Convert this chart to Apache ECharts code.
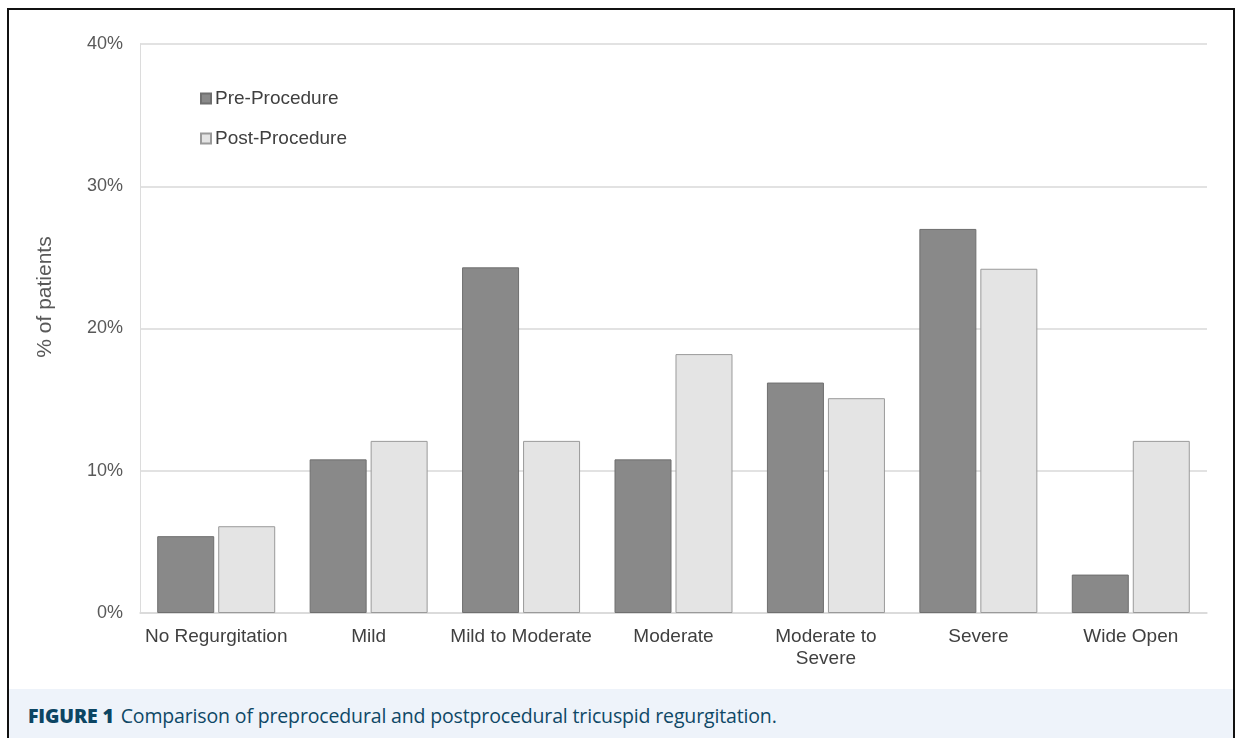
<!DOCTYPE html>
<html>
<head>
<meta charset="utf-8">
<script src="https://cdn.jsdelivr.net/npm/echarts@6/dist/echarts.min.js"></script>
<style>
  html, body { margin: 0; padding: 0; background: #fff; }
  #frame {
    position: absolute; left: 7px; top: 8px; width: 1224px; height: 730px;
    border-left: 2px solid #111; border-top: 2px solid #111; border-right: 2px solid #111;
    box-sizing: content-box;
  }
  #chart { position: absolute; left: 0; top: 0; width: 1241px; height: 688px; }
  #caption {
    position: absolute; left: 9px; top: 689px; width: 1224px; height: 49px;
    background: #eef3fa;
    font-family: "Open Sans", "Noto Sans", sans-serif; font-size: 19.5px;
    color: #0f4866; line-height: 54px; padding-left: 19px; box-sizing: border-box;
    letter-spacing: -0.15px;
  }
  #caption b { font-weight: 800; margin-right: 7px; color: #0c4563; }
</style>
</head>
<body>
<div id="chart"></div>
<div id="frame"></div>
<div id="caption"><b>FIGURE 1</b>Comparison of preprocedural and postprocedural tricuspid regurgitation.</div>
<script>
// Tricuspid regurgitation grade distribution before and after the procedure
const categories = ['No Regurgitation', 'Mild', 'Mild to Moderate', 'Moderate', 'Moderate to\nSevere', 'Severe', 'Wide Open'];
const preProcedure = [5.4, 10.8, 24.3, 10.8, 16.2, 27.0, 2.7];
const postProcedure = [6.1, 12.1, 12.1, 18.2, 15.1, 24.2, 12.1];
const yTicks = [0, 10, 20, 30, 40];

const chart = echarts.init(document.getElementById('chart'), null, { renderer: 'canvas' });
const font = '"Liberation Sans", Arial, sans-serif';

chart.setOption({
  animation: false,
  textStyle: { fontFamily: font },
  grid: { left: 140, right: 34, top: 44, bottom: 75, containLabel: false },
  legend: {
    orient: 'vertical', left: 195, top: 84, itemGap: 21,
    itemWidth: 10, itemHeight: 10, icon: 'rect',
    textStyle: { fontFamily: font, fontSize: 19, color: '#404040', padding: [0, 0, 0, -1] },
    data: ['Pre-Procedure', 'Post-Procedure']
  },
  xAxis: {
    type: 'category', data: categories,
    axisLine: { lineStyle: { color: '#d9d9d9', width: 1.5 } },
    axisTick: { show: false },
    axisLabel: { fontFamily: font, fontSize: 19, color: '#404040', margin: 13, lineHeight: 22, interval: 0 }
  },
  yAxis: {
    type: 'value', min: yTicks[0], max: yTicks[yTicks.length - 1], interval: 10,
    axisLine: { show: true, lineStyle: { color: '#dcdcdc', width: 1 } },
    axisTick: { show: false },
    splitLine: { lineStyle: { color: '#d9d9d9', width: 1.5 } },
    axisLabel: { fontFamily: font, fontSize: 18, color: '#595959', margin: 17, formatter: v => v + '%' }
  },
  graphic: [{
    type: 'text', x: 35, y: 297, rotation: Math.PI / 2, originX: 0, originY: 0,
    style: { text: '% of patients', font: '21px ' + font, fill: '#595959', align: 'center', verticalAlign: 'top' },
    silent: true
  }],
  series: [
    {
      name: 'Pre-Procedure', type: 'bar', data: preProcedure,
      barWidth: 57, barGap: '7%',
      itemStyle: { color: '#898989', borderColor: '#6f6f6f', borderWidth: 1 }
    },
    {
      name: 'Post-Procedure', type: 'bar', data: postProcedure,
      barWidth: 57,
      itemStyle: { color: '#e4e4e4', borderColor: '#9a9a9a', borderWidth: 1 }
    }
  ]
});
</script>
</body>
</html>
